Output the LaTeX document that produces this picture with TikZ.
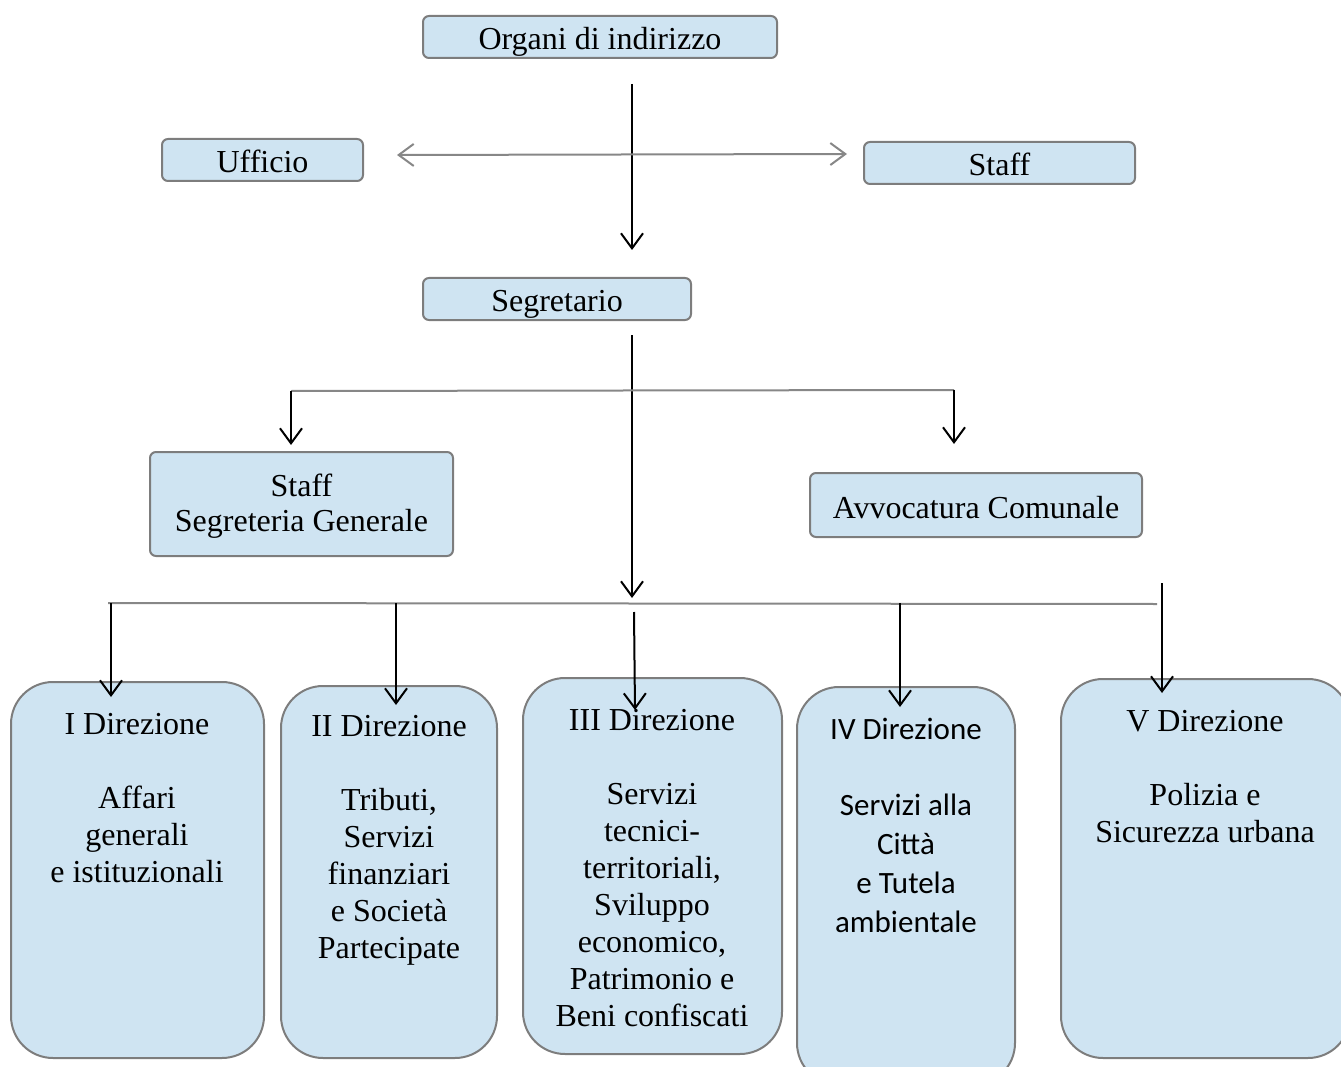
\documentclass[tikz,border=0pt]{standalone}
\usepackage{fontspec}
\setmainfont{Liberation Serif}
\newfontfamily\calibrifont{Carlito}
\usetikzlibrary{arrows.meta}
\definecolor{boxfill}{RGB}{207,228,242}
\definecolor{boxline}{RGB}{125,125,125}
\definecolor{linegray}{RGB}{135,135,135}
\tikzset{
  smallbox/.style={draw=boxline, fill=boxfill, line width=2pt, rounded corners=6pt, inner sep=0pt,
    font=\fontsize{32}{36}\selectfont, text height=29pt, text depth=3pt},
  dirbox/.style={draw=boxline, fill=boxfill, line width=2pt, rounded corners=42pt, inner sep=0pt},
  dirtext/.style={font=\fontsize{32}{37}\selectfont, align=center, inner sep=0pt, anchor=north},
  downarrow/.style={line width=2pt, -{Straight Barb[length=15pt,width=22pt,line width=2pt]}},
  grayline/.style={line width=2pt, draw=linegray}
}
\begin{document}
\begin{tikzpicture}[x=1pt,y=-1pt]
\clip (0,0) rectangle (1341,1067);
%%% top of the chart
\node[smallbox, minimum width=354pt, minimum height=42pt] (organi) at (600,37) {Organi di indirizzo};
\node[smallbox, minimum width=201pt, minimum height=42pt] (ufficio) at (262.5,160) {Ufficio};
\node[smallbox, minimum width=271pt, minimum height=42pt] (staff) at (999.5,163) {Staff};
\node[smallbox, minimum width=268pt, minimum height=42pt] (segretario) at (557,299) {Segretario};
\node[smallbox, minimum width=303pt, minimum height=104pt] (staffseg) at (301.5,504) {};
\node[dirtext, font=\fontsize{32}{35}\selectfont] (staffsegt) at (301.5,474) {Staff\\Segreteria Generale};
\node[smallbox, minimum width=332pt, minimum height=64pt] (avvocatura) at (976,505) {Avvocatura Comunale};
%%% the five direzioni
\node[dirbox, minimum width=253pt, minimum height=376pt] (dir1) at (137.5,870) {};
\node[dirbox, minimum width=216pt, minimum height=372pt] (dir2) at (389,872) {};
\node[dirbox, minimum width=259pt, minimum height=376pt] (dir3) at (652.5,866) {};
\node[dirbox, minimum width=218pt, minimum height=398pt] (dir4) at (906,886) {};
\node[dirbox, minimum width=289pt, minimum height=379pt] (dir5) at (1205.5,868.5) {};
\node[dirtext] (dir1t) at (137,713) {I Direzione\\[37pt]Affari\\generali\\e istituzionali};
\node[dirtext] (dir2t) at (389,715) {II Direzione\\[37pt]Tributi,\\Servizi\\finanziari\\e Società\\Partecipate};
\node[dirtext] (dir3t) at (652,709) {III Direzione\\[37pt]Servizi\\tecnici-\\territoriali,\\Sviluppo\\economico,\\Patrimonio e\\Beni confiscati};
\node[dirtext, font=\calibrifont\fontsize{31}{39}\selectfont] (dir4t) at (906,718) {IV Direzione\\[37pt]Servizi alla\\Città\\e Tutela\\ambientale};
\node[dirtext] (dir5t) at (1205,710) {V Direzione\\[37pt]Polizia e\\Sicurezza urbana};
%%% end points of the connectors
\coordinate (o1) at (632,84);
\coordinate (o2) at (632,250);
\coordinate (u1) at (397,155);
\coordinate (u2) at (847,154);
\coordinate (s1) at (632,335);
\coordinate (s2) at (632,598);
\coordinate (h1) at (291,391);
\coordinate (h2) at (954,390);
\coordinate (h3) at (291,445);
\coordinate (h4) at (954,444);
\coordinate (b1) at (108,603);
\coordinate (b2) at (1157,604);
\draw[downarrow] (o1) -- (o2);
\draw[grayline, {Straight Barb[length=15pt,width=22pt,line width=2pt]}-{Straight Barb[length=15pt,width=22pt,line width=2pt]}] (u1) -- (u2);
\draw[downarrow] (s1) -- (s2);
\draw[grayline] (h1) -- (h2);
\draw[downarrow] (h1) -- (h3);
\draw[downarrow] (h2) -- (h4);
\draw[grayline] (b1) -- (b2);
\draw[downarrow] (111,603) -- (111,697);
\draw[downarrow] (396,603) -- (396,705);
\draw[downarrow] (634,612) -- (635,710);
\draw[downarrow] (900,603) -- (900,707);
\draw[downarrow] (1162,583) -- (1162,693);
\end{tikzpicture}
\end{document}
